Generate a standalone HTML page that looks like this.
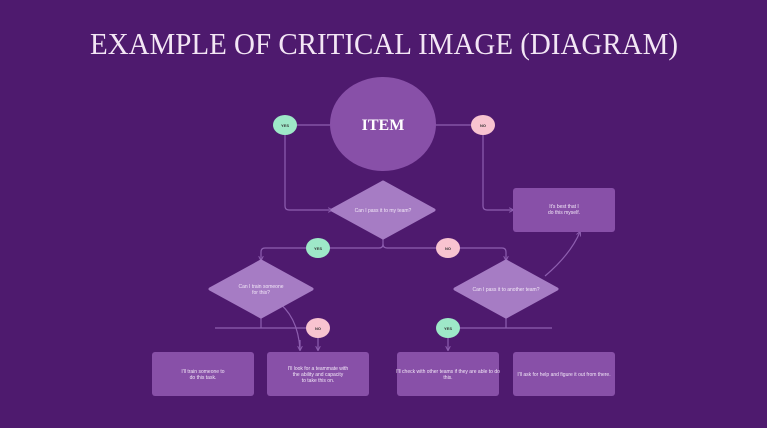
<!DOCTYPE html>
<html><head><meta charset="utf-8"><style>
html,body{margin:0;padding:0;background:#4e1a6e;}
svg{display:block}
.t{font-family:"Liberation Sans",sans-serif;fill:#f3e8f8;font-size:5px;text-anchor:middle}
.b{font-family:"Liberation Sans",sans-serif;fill:#333;font-size:4px;text-anchor:middle;font-weight:bold}
</style></head><body>
<svg width="767" height="428" viewBox="0 0 767 428" xmlns="http://www.w3.org/2000/svg">
<defs><marker id="a" viewBox="0 0 6 6" refX="5" refY="3" markerWidth="4" markerHeight="4" orient="auto"><path d="M0,0 L6,3 L0,6" fill="none" stroke="#8e5fb0" stroke-width="1.2"/></marker></defs>
<rect width="767" height="428" fill="#4e1a6e"/>
<text x="384" y="54" font-family="Liberation Serif,serif" font-size="31" fill="#f3e6f5" text-anchor="middle" textLength="588" lengthAdjust="spacingAndGlyphs">EXAMPLE OF CRITICAL IMAGE (DIAGRAM)</text>
<g stroke="#8e5fb0" stroke-width="1.2" fill="none">
<path d="M285,125 H330 M436,125 H483"/>
<path d="M285,125 V206 Q285,210 289,210 H332" marker-end="url(#a)"/>
<path d="M483,125 V206 Q483,210 487,210 H513" marker-end="url(#a)"/>
<path d="M383,238 V244 Q383,248 379,248 H265 Q261,248 261,252 V260" marker-end="url(#a)"/>
<path d="M383,244 Q383,248 387,248 H502 Q506,248 506,252 V260" marker-end="url(#a)"/>
<path d="M215,328 H320 M261,318 V328"/>
<path d="M440,328 H552 M506,318 V328"/>
<path d="M318,328 V350" marker-end="url(#a)"/>
<path d="M448,328 V350" marker-end="url(#a)"/>
<path d="M300,350 Q298,315 275,300" marker-end="url(#a)"/>
<path d="M300,340 L300,350" marker-end="url(#a)"/>
<path d="M545,276 Q570,255 580,232" marker-end="url(#a)"/>
</g>
<ellipse cx="383" cy="124" rx="53" ry="47" fill="#8850a8"/>
<text x="383" y="130" font-family="Liberation Serif,serif" font-size="16" font-weight="bold" fill="#fff" text-anchor="middle">ITEM</text>
<ellipse cx="285" cy="125" rx="12" ry="10" fill="#9ee8c8"/><text class="b" x="285" y="127">YES</text>
<ellipse cx="483" cy="125" rx="12" ry="10" fill="#f8c3d0"/><text class="b" x="483" y="127">NO</text>
<polygon points="332,210 383,182 434,210 383,238" fill="#a67cc4" stroke="#a67cc4" stroke-linejoin="round" stroke-width="3"/>
<text class="t" x="383" y="212">Can I pass it to my team?</text>
<rect x="513" y="188" width="102" height="44" rx="3" fill="#8850a8"/>
<text class="t" x="564" y="208">It's best that I</text><text class="t" x="564" y="214">do this myself.</text>
<ellipse cx="318" cy="248" rx="12" ry="10" fill="#9ee8c8"/><text class="b" x="318" y="250">YES</text>
<ellipse cx="448" cy="248" rx="12" ry="10" fill="#f8c3d0"/><text class="b" x="448" y="250">NO</text>
<polygon points="210,289 261,261 312,289 261,317" fill="#a67cc4" stroke="#a67cc4" stroke-linejoin="round" stroke-width="3"/>
<text class="t" x="261" y="288">Can I train someone</text><text class="t" x="261" y="294">for this?</text>
<polygon points="455,289 506,261 557,289 506,317" fill="#a67cc4" stroke="#a67cc4" stroke-linejoin="round" stroke-width="3"/>
<text class="t" x="506" y="291">Can I pass it to another team?</text>
<ellipse cx="318" cy="328" rx="12" ry="10" fill="#f8c3d0"/><text class="b" x="318" y="330">NO</text>
<ellipse cx="448" cy="328" rx="12" ry="10" fill="#9ee8c8"/><text class="b" x="448" y="330">YES</text>
<g fill="#8850a8">
<rect x="152" y="352" width="102" height="44" rx="3"/>
<rect x="267" y="352" width="102" height="44" rx="3"/>
<rect x="397" y="352" width="102" height="44" rx="3"/>
<rect x="513" y="352" width="102" height="44" rx="3"/>
</g>
<text class="t" x="203" y="373">I'll train someone to</text><text class="t" x="203" y="379">do this task.</text>
<text class="t" x="318" y="370">I'll look for a teammate with</text><text class="t" x="318" y="376">the ability and capacity</text><text class="t" x="318" y="382">to take this on.</text>
<text class="t" x="448" y="373">I'll check with other teams if they are able to do</text><text class="t" x="448" y="379">this.</text>
<text class="t" x="564" y="376">I'll ask for help and figure it out from there.</text>
</svg>
</body></html>
